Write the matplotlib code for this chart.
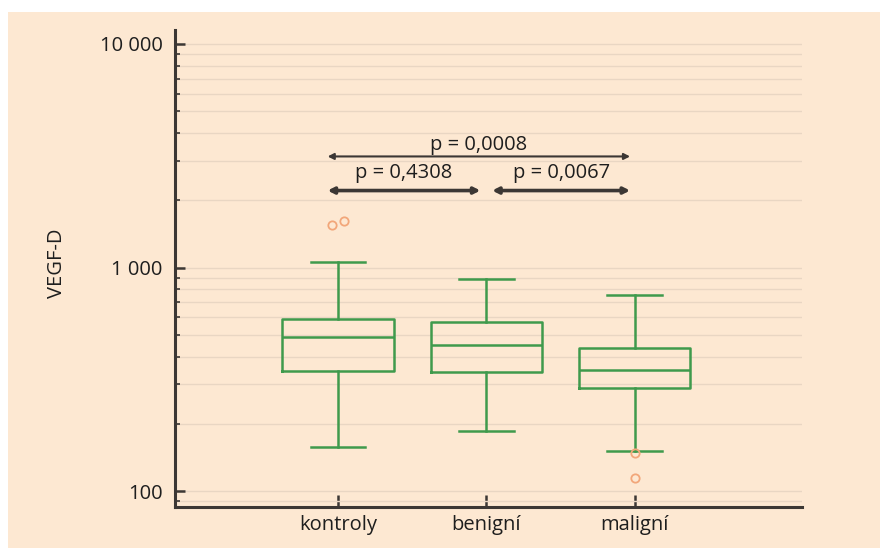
import matplotlib.pyplot as plt
from matplotlib.patches import Rectangle
from matplotlib.ticker import FixedLocator, LogLocator, NullFormatter

plt.rcParams['font.family'] = ['Open Sans', 'DejaVu Sans']

groups = ['kontroly', 'benigní', 'maligní']
whisk_lo = [157, 185, 151]
q1 = [343, 340, 288]
median = [487, 449, 347]
q3 = [586, 568, 438]
whisk_hi = [1063, 893, 757]
outliers = [[1550, 1620], [], [148, 114]]
outlier_dx = [[-0.04, 0.04], [], [0, 0]]

# p-value brackets: (start, end, level, label level, text, width)
pairs = [(0.93, 2.97, 3140, 3540, 'p = 0,0008', 1.5),
         (0.93, 1.96, 2210, 2660, 'p = 0,4308', 2.6),
         (2.04, 2.97, 2210, 2660, 'p = 0,0067', 2.6)]

bg = '#fde8d2'
green = '#3f9a4c'
orange = '#f2a77a'
dark = '#3c3734'
txtc = '#1e1e1e'
fs = 14.5

fig = plt.figure(figsize=(8.8, 5.48), dpi=100, facecolor='white')
fig.patches.append(Rectangle((8 / 880, 0), 1, 1 - 12 / 548, transform=fig.transFigure,
                             facecolor=bg, edgecolor='none', zorder=-10))
ax = fig.add_axes([175 / 880, 41 / 548, 627 / 880, 477 / 548])
ax.patch.set_alpha(0)

stats = []
for i, g in enumerate(groups):
    stats.append(dict(label=g, whislo=whisk_lo[i], q1=q1[i], med=median[i],
                      q3=q3[i], whishi=whisk_hi[i], fliers=[]))
ax.bxp(stats, positions=[1, 2, 3], widths=0.75, showfliers=False,
       boxprops=dict(color=green, lw=1.8),
       medianprops=dict(color=green, lw=1.8),
       whiskerprops=dict(color=green, lw=1.8),
       capprops=dict(color=green, lw=1.8), capwidths=0.37, zorder=3)

for i, vals in enumerate(outliers):
    for v, dx in zip(vals, outlier_dx[i]):
        ax.plot(i + 1 + dx, v, 'o', mfc='none', mec=orange, ms=6, mew=1.3, zorder=4)

ax.set_yscale('log')
ax.set_ylim(10 ** 1.929, 10 ** 4.0625)
ax.set_xlim(-0.10, 4.13)

ax.yaxis.set_major_locator(FixedLocator([100, 1000, 10000]))
ax.set_yticklabels(['100', '1 000', '10 000'])
ax.yaxis.set_minor_locator(LogLocator(base=10, subs=range(2, 10)))
ax.yaxis.set_minor_formatter(NullFormatter())
ax.grid(True, which='both', axis='y', color='#e9d6c3', lw=1.0, zorder=0)

ax.set_xticks([1, 2, 3])
ax.set_xticklabels(groups)
ax.tick_params(axis='y', which='major', direction='in', length=7, width=1.8,
               color=dark, labelsize=fs, labelcolor=txtc, pad=9)
ax.tick_params(axis='y', which='minor', direction='in', length=3.5, width=1.2, color=dark)
ax.tick_params(axis='x', which='major', direction='in', length=9, width=1.8,
               color=dark, labelsize=fs, labelcolor=txtc, pad=6)

for s in ['top', 'right']:
    ax.spines[s].set_visible(False)
for s in ['left', 'bottom']:
    ax.spines[s].set_color(dark)
    ax.spines[s].set_linewidth(2.2)

ax.set_ylabel('VEGF-D', fontsize=fs, color=txtc)
ax.yaxis.set_label_coords(-0.172, 0.51)

for x0, x1, y, ty, txt, w in pairs:
    ax.annotate('', xy=(x1, y), xytext=(x0, y),
                arrowprops=dict(arrowstyle='<|-|>,head_length=0.35,head_width=0.18',
                                color=dark, lw=w, shrinkA=0, shrinkB=0), zorder=5)
    ax.text((x0 + x1) / 2, ty, txt, ha='center', va='center', fontsize=fs, color=txtc)

fig.savefig('out.png', dpi=100, facecolor='white')
